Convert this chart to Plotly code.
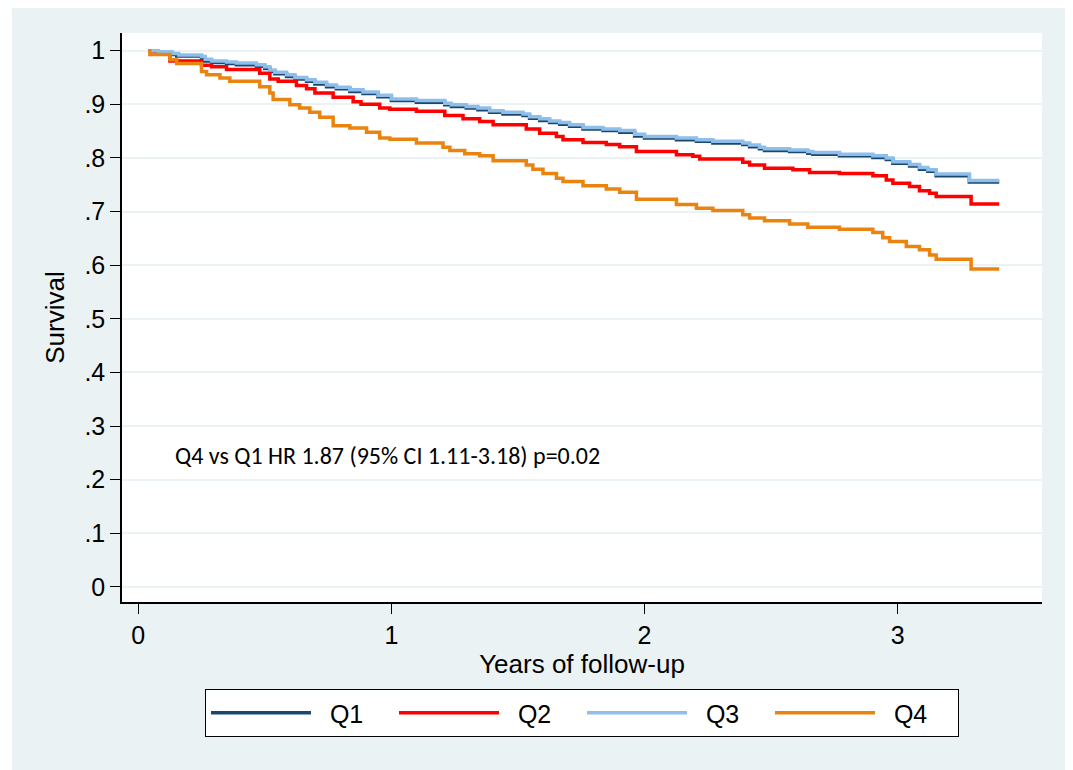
import plotly.graph_objects as go

# ---------------- data ----------------
years_q1 = [0.04, 0.073, 0.132, 0.152, 0.250, 0.263, 0.290, 0.349, 0.388, 0.467, 0.500, 0.520,
            0.540, 0.586, 0.619, 0.665, 0.698, 0.744, 0.783, 0.836, 0.888, 0.947, 1.000, 1.099,
            1.211, 1.237, 1.296, 1.342, 1.388, 1.441, 1.520, 1.546, 1.586, 1.625, 1.665, 1.704,
            1.757, 1.836, 1.902, 1.961, 2.000, 2.126, 2.205, 2.270, 2.388, 2.415, 2.454, 2.474,
            2.573, 2.645, 2.665, 2.770, 2.902, 2.955, 2.981, 3.047, 3.086, 3.119, 3.152, 3.283, 3.401]
surv_q1 = [1.000, 0.997, 0.993, 0.990, 0.986, 0.981, 0.978, 0.976, 0.974, 0.971, 0.967, 0.961,
           0.957, 0.952, 0.947, 0.943, 0.938, 0.933, 0.929, 0.924, 0.920, 0.914, 0.907, 0.904,
           0.899, 0.896, 0.893, 0.890, 0.885, 0.882, 0.879, 0.874, 0.870, 0.866, 0.863, 0.859,
           0.854, 0.851, 0.848, 0.841, 0.837, 0.834, 0.831, 0.828, 0.825, 0.821, 0.817, 0.814,
           0.812, 0.809, 0.807, 0.804, 0.801, 0.797, 0.790, 0.785, 0.779, 0.775, 0.767, 0.755, 0.755]

years_q2 = [0.04, 0.070, 0.125, 0.250, 0.290, 0.349, 0.480, 0.520, 0.553, 0.625, 0.665, 0.698,
            0.770, 0.849, 0.880, 0.954, 0.994, 1.099, 1.211, 1.283, 1.349, 1.402, 1.533, 1.586,
            1.652, 1.678, 1.757, 1.849, 1.902, 1.968, 2.126, 2.191, 2.218, 2.388, 2.415, 2.474,
            2.586, 2.652, 2.770, 2.902, 2.955, 2.981, 3.047, 3.086, 3.126, 3.152, 3.290, 3.401]
surv_q2 = [1.000, 0.995, 0.981, 0.973, 0.970, 0.965, 0.958, 0.947, 0.943, 0.935, 0.929, 0.921,
           0.913, 0.905, 0.900, 0.893, 0.891, 0.887, 0.879, 0.873, 0.868, 0.862, 0.854, 0.846,
           0.840, 0.834, 0.829, 0.825, 0.821, 0.812, 0.806, 0.803, 0.798, 0.792, 0.787, 0.781,
           0.778, 0.773, 0.771, 0.767, 0.759, 0.753, 0.747, 0.739, 0.734, 0.728, 0.714, 0.714]

years_q3 = [0.04, 0.080, 0.132, 0.160, 0.250, 0.265, 0.290, 0.349, 0.388, 0.467, 0.500, 0.520,
            0.540, 0.586, 0.619, 0.665, 0.698, 0.744, 0.783, 0.836, 0.888, 0.947, 1.000, 1.099,
            1.211, 1.237, 1.296, 1.342, 1.388, 1.441, 1.520, 1.546, 1.586, 1.625, 1.665, 1.704,
            1.757, 1.836, 1.902, 1.961, 2.000, 2.126, 2.205, 2.270, 2.388, 2.415, 2.454, 2.474,
            2.573, 2.645, 2.665, 2.770, 2.902, 2.955, 2.981, 3.047, 3.086, 3.119, 3.152, 3.283, 3.401]
surv_q3 = [1.000, 0.998, 0.995, 0.992, 0.989, 0.984, 0.981, 0.979, 0.977, 0.974, 0.970, 0.964,
           0.960, 0.955, 0.950, 0.946, 0.941, 0.936, 0.932, 0.927, 0.923, 0.917, 0.910, 0.907,
           0.902, 0.899, 0.896, 0.893, 0.888, 0.885, 0.882, 0.877, 0.873, 0.869, 0.866, 0.862,
           0.857, 0.854, 0.851, 0.844, 0.840, 0.837, 0.834, 0.831, 0.828, 0.824, 0.820, 0.817,
           0.815, 0.812, 0.810, 0.807, 0.804, 0.800, 0.793, 0.788, 0.782, 0.778, 0.770, 0.758, 0.758]

years_q4 = [0.04, 0.046, 0.125, 0.152, 0.250, 0.270, 0.323, 0.362, 0.480, 0.520, 0.533, 0.599,
            0.638, 0.678, 0.717, 0.770, 0.836, 0.902, 0.954, 0.994, 1.099, 1.204, 1.231, 1.290,
            1.349, 1.402, 1.533, 1.559, 1.599, 1.652, 1.678, 1.757, 1.849, 1.902, 1.968, 2.126,
            2.205, 2.270, 2.388, 2.415, 2.474, 2.573, 2.645, 2.770, 2.902, 2.941, 2.968, 3.034,
            3.086, 3.126, 3.152, 3.290, 3.401]
surv_q4 = [1.000, 0.993, 0.983, 0.976, 0.961, 0.955, 0.949, 0.943, 0.933, 0.921, 0.909, 0.899,
           0.893, 0.885, 0.876, 0.860, 0.856, 0.848, 0.837, 0.835, 0.828, 0.820, 0.814, 0.808,
           0.804, 0.795, 0.787, 0.779, 0.771, 0.762, 0.756, 0.748, 0.742, 0.736, 0.723, 0.713,
           0.706, 0.702, 0.694, 0.688, 0.683, 0.677, 0.671, 0.667, 0.661, 0.651, 0.644, 0.635,
           0.629, 0.619, 0.611, 0.593, 0.593]

series_names = ["Q1", "Q2", "Q3", "Q4"]
series_colors = ["#1A476F", "#FF0000", "#8DBFEA", "#EA8410"]

y_ticks = [0, 0.1, 0.2, 0.3, 0.4, 0.5, 0.6, 0.7, 0.8, 0.9, 1]
y_tick_labels = ["0", ".1", ".2", ".3", ".4", ".5", ".6", ".7", ".8", ".9", "1"]
x_ticks = [0, 1, 2, 3]

note_text = "Q4 vs Q1 HR 1.87 (95% CI 1.11-3.18) p=0.02"

# ---------------- figure ----------------
BG = "#EAF2F3"
FONT = "Liberation Sans, Arial, sans-serif"
GAP = "\u00a0\u00a0"  # small gap between legend key line and its label

fig = go.Figure()
all_x = [years_q1, years_q2, years_q3, years_q4]
all_y = [surv_q1, surv_q2, surv_q3, surv_q4]
for name, col, xs, ys in zip(series_names, series_colors, all_x, all_y):
    fig.add_trace(go.Scatter(
        x=xs, y=ys, name=GAP + name, mode="lines",
        line=dict(color=col, width=3.5, shape="hv"),
    ))

fig.update_layout(
    width=1065, height=762,
    margin=dict(l=114, r=31, t=25, b=168),
    paper_bgcolor=BG,
    plot_bgcolor="white",
    font=dict(family=FONT, size=25, color="black"),
    showlegend=True,
    legend=dict(
        orientation="h",
        x=0.5, xanchor="center",
        y=-0.153, yanchor="top",
        bgcolor="white",
        bordercolor="black", borderwidth=1,
        font=dict(family=FONT, size=25, color="black"),
        entrywidth=73, entrywidthmode="pixels",
        itemwidth=100,
        traceorder="normal",
    ),
    xaxis=dict(
        range=[-0.064, 3.57],
        tickmode="array", tickvals=x_ticks,
        ticks="outside", ticklen=10, tickwidth=1.2, tickcolor="black",
        showline=True, linecolor="black", linewidth=1.5,
        showgrid=False, zeroline=False,
        title=dict(text="Years of follow-up", standoff=3,
                   font=dict(family=FONT, size=26)),
        tickfont=dict(family=FONT, size=25),
    ),
    yaxis=dict(
        range=[-0.028, 1.033],
        tickmode="array", tickvals=y_ticks, ticktext=y_tick_labels,
        ticks="outside", ticklen=10, tickwidth=1.2, tickcolor="black",
        showline=True, linecolor="black", linewidth=1.5,
        showgrid=True, gridcolor=BG, gridwidth=1.5,
        zeroline=False,
        title=dict(text="Survival", standoff=12,
                   font=dict(family=FONT, size=26)),
        tickfont=dict(family=FONT, size=25),
    ),
    annotations=[dict(
        x=0.136, y=0.246, xref="x", yref="y",
        text=note_text, showarrow=False, xanchor="left", yanchor="middle",
        font=dict(family="Carlito, Calibri, Lato, sans-serif", size=24, color="black"),
    )],
    shapes=[
        dict(type="rect", xref="paper", yref="paper", x0=-0.13, x1=-0.1196,
             y0=-0.31, y1=1.05, fillcolor="white", line=dict(width=0), layer="below"),
    ],
)

fig.write_html("out.html")
